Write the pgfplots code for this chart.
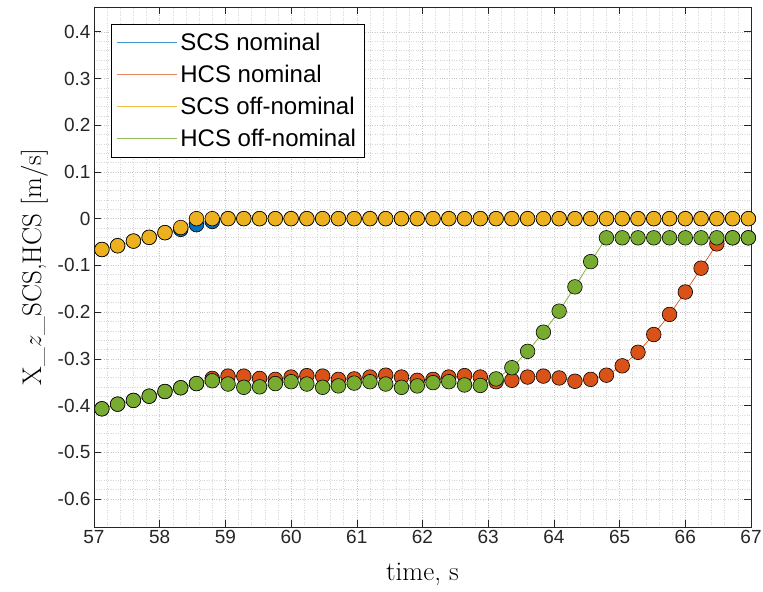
\documentclass[border=0pt]{standalone}
\usepackage{pgfplots}
\pgfplotsset{compat=1.18}
\usepackage{pgfplotstable}
\usepackage{fontspec}
\newfontfamily\arial{Liberation Sans}
\definecolor{mblue}{rgb}{0,0.447,0.741}
\definecolor{mred}{rgb}{0.850,0.325,0.098}
\definecolor{myellow}{rgb}{0.929,0.694,0.125}
\definecolor{mgreen}{rgb}{0.466,0.674,0.188}
\definecolor{axgray}{rgb}{0.15,0.15,0.15}

\pgfplotstableread{
t      scs     hcs     scsoff  hcsoff
57.12  -0.066  -0.407  -0.066  -0.407
57.36  -0.058  -0.397  -0.058  -0.397
57.60  -0.048  -0.389  -0.048  -0.389
57.84  -0.040  -0.380  -0.040  -0.380
58.08  -0.030  -0.370  -0.030  -0.370
58.32  -0.023  -0.362  -0.019  -0.362
58.56  -0.013  -0.353   0.000  -0.353
58.80  -0.006  -0.342   0.000  -0.347
59.04   0.000  -0.337   0.000  -0.354
59.28   0.000  -0.337   0.000  -0.361
59.52   0.000  -0.342   0.000  -0.360
59.76   0.000  -0.344   0.000  -0.353
60.00   0.000  -0.339   0.000  -0.349
60.24   0.000  -0.336   0.000  -0.354
60.48   0.000  -0.337   0.000  -0.361
60.72   0.000  -0.344   0.000  -0.358
60.96   0.000  -0.343   0.000  -0.352
61.20   0.000  -0.339   0.000  -0.349
61.44   0.000  -0.335   0.000  -0.354
61.68   0.000  -0.339   0.000  -0.361
61.92   0.000  -0.346   0.000  -0.358
62.16   0.000  -0.344   0.000  -0.351
62.40   0.000  -0.339   0.000  -0.349
62.64   0.000  -0.336   0.000  -0.356
62.88   0.000  -0.339   0.000  -0.357
63.12   0.000  -0.349   0.000  -0.343
63.36   0.000  -0.346   0.000  -0.319
63.60   0.000  -0.339   0.000  -0.284
63.84   0.000  -0.337   0.000  -0.243
64.08   0.000  -0.341   0.000  -0.198
64.32   0.000  -0.348   0.000  -0.146
64.56   0.000  -0.344   0.000  -0.092
64.80   0.000  -0.335   0.000  -0.041
65.04   0.000  -0.315   0.000  -0.041
65.28   0.000  -0.286   0.000  -0.041
65.52   0.000  -0.248   0.000  -0.041
65.76   0.000  -0.205   0.000  -0.041
66.00   0.000  -0.157   0.000  -0.041
66.24   0.000  -0.106   0.000  -0.041
66.48   0.000  -0.054   0.000  -0.041
66.72   0.000  -0.041   0.000  -0.041
66.96   0.000  -0.041   0.000  -0.041
}\datatable

\begin{document}
\begin{tikzpicture}
\begin{axis}[
  scale only axis,
  width=657pt, height=520pt,
  xmin=57, xmax=67, ymin=-0.66, ymax=0.453,
  xtick={57,58,59,60,61,62,63,64,65,66,67},
  ytick={-0.6,-0.5,-0.4,-0.3,-0.2,-0.1,0,0.1,0.2,0.3,0.4},
  minor x tick num=4, minor y tick num=4,
  tick align=inside,
  major tick length=7pt, minor tick length=0pt,
  axis line style={color=axgray, line width=0.6pt},
  every tick/.style={color=axgray, line width=0.6pt},
  grid=both,
  major grid style={dotted, color=black!22, line width=0.5pt},
  minor grid style={dotted, color=black!16, line width=0.5pt},
  /pgf/number format/.cd, fixed, precision=1, assume math mode=true,
  /pgfplots/.cd,
  tick label style={font=\arial\fontsize{19}{22}\selectfont, color=axgray},
  label style={font=\fontsize{27}{30}\selectfont, color=black},
  xlabel={time, s},
  xlabel style={yshift=-12pt},
  ylabel={X\_$z$\_SCS,HCS [m/s]},
  ylabel style={yshift=3pt},
  legend style={at={(0.026,0.967)}, anchor=north west,
    font=\arial\fontsize{24}{28}\selectfont, line width=0.6pt, fill=white,
    row sep=7pt, inner xsep=5pt, inner ysep=6pt,
    nodes={inner sep=3pt}},
  legend cell align=left,
  every axis plot/.append style={line width=0.7pt},
]
\addlegendimage{legend image code/.code={\draw[draw=mblue!75!white, line width=1pt] (0pt,0pt) -- (60pt,0pt);}}
\addlegendentry{SCS nominal}
\addlegendimage{legend image code/.code={\draw[draw=mred!70!white, line width=1pt] (0pt,0pt) -- (60pt,0pt);}}
\addlegendentry{HCS nominal}
\addlegendimage{legend image code/.code={\draw[draw=myellow!85!white, line width=1pt] (0pt,0pt) -- (60pt,0pt);}}
\addlegendentry{SCS off-nominal}
\addlegendimage{legend image code/.code={\draw[draw=mgreen!80!white, line width=1pt] (0pt,0pt) -- (60pt,0pt);}}
\addlegendentry{HCS off-nominal}
\addplot[forget plot, draw=mblue, mark=*, mark size=7.3pt, mark options={draw=black, fill=mblue, line width=0.6pt}] table[x=t, y=scs] {\datatable};
\addplot[forget plot, draw=mred, mark=*, mark size=7.3pt, mark options={draw=black, fill=mred, line width=0.6pt}] table[x=t, y=hcs] {\datatable};
\addplot[forget plot, draw=myellow, mark=*, mark size=7.3pt, mark options={draw=black, fill=myellow, line width=0.6pt}] table[x=t, y=scsoff] {\datatable};
\addplot[forget plot, draw=mgreen, mark=*, mark size=7.3pt, mark options={draw=black, fill=mgreen, line width=0.6pt}] table[x=t, y=hcsoff] {\datatable};
\end{axis}
\pgfresetboundingbox
\useasboundingbox ([xshift=-94pt,yshift=-64pt]current axis.south west) rectangle ([xshift=12pt,yshift=7pt]current axis.north east);
\end{tikzpicture}
\end{document}
